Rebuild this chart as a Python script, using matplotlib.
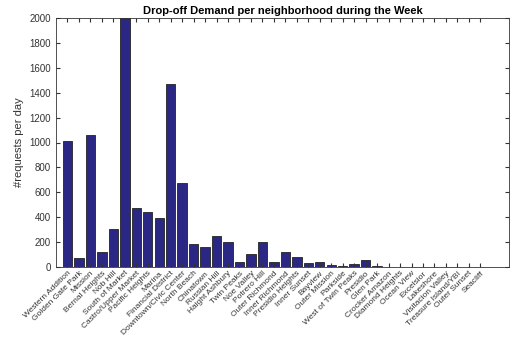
import matplotlib.pyplot as plt

plt.rcParams['font.family'] = ['Liberation Sans', 'DejaVu Sans']

neighborhoods = ['Western Addition', 'Golden Gate Park', 'Mission', 'Bernal Heights', 'Nob Hill',
                 'South of Market', 'Castro/Upper Market', 'Pacific Heights', 'Marina',
                 'Financial District', 'Downtown/Civic Center', 'North Beach', 'Chinatown',
                 'Russian Hill', 'Haight Ashbury', 'Twin Peaks', 'Noe Valley', 'Potrero Hill',
                 'Outer Richmond', 'Inner Richmond', 'Presidio Heights', 'Inner Sunset',
                 'Bayview', 'Outer Mission', 'Parkside', 'West of Twin Peaks', 'Presidio',
                 'Glen Park', 'Crocker Amazon', 'Diamond Heights', 'Ocean View', 'Excelsior',
                 'Lakeshore', 'Visitacion Valley', 'Treasure Island/YBI', 'Outer Sunset', 'Seacliff']
requests = [1012, 72, 1060, 118, 303, 2000, 475, 443, 395, 1468, 677, 183, 158, 252, 204,
            40, 107, 199, 40, 118, 78, 32, 43, 13, 8, 27, 56, 8, 2, 1, 3, 3, 1, 1, 1, 3, 1]

pos = list(range(1, len(neighborhoods) + 1))

fig = plt.figure(figsize=(5.15, 3.39), dpi=100)
ax = fig.add_axes([56/515, 1 - 267/339, 453/515, 249/339])
ax.bar(pos, requests, width=0.82, color='#2b2785', edgecolor='#222222', linewidth=0.6)

ax.set_xlim(0, 39.5)
ax.set_ylim(0, 2000)
ax.set_yticks(range(0, 2001, 200))
ax.set_xticks(pos)
ax.set_xticklabels(neighborhoods, rotation=45, ha='right', rotation_mode='anchor', fontsize=6.0)
ax.tick_params(axis='y', labelsize=7, colors='#333333', direction='in', right=True, length=3)
ax.tick_params(axis='x', direction='in', top=True, length=3, pad=2, colors='#333333')
for lbl in ax.get_xticklabels():
    lbl.set_color('#333333')
for s in ax.spines.values():
    s.set_linewidth(0.6)
    s.set_color('#333333')

ax.set_ylabel('#requests per day', fontsize=8, color='#333333')
ax.set_title('Drop-off Demand per neighborhood during the Week', fontsize=8, fontweight='bold', pad=3)

fig.savefig('out.png', dpi=100)
